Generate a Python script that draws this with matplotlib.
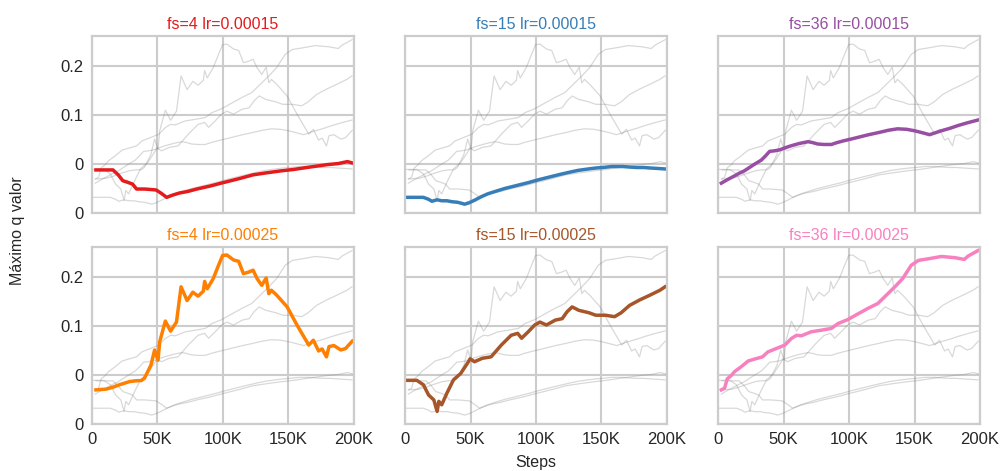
"""Small multiples of the maximum q value per run, one run highlighted per panel."""

import matplotlib
matplotlib.use("Agg")
import matplotlib.pyplot as plt


# steps (in thousands) and maximum q value read for each run
RED_X = [3, 10, 16, 20, 23.5, 27, 31, 34, 40, 45, 49, 53, 57, 62, 67, 73, 80, 90, 100, 112, 123,
         133, 144, 154, 164, 172, 180, 188, 195, 199]
RED_Y = [-0.012, -0.012, -0.012, -0.022, -0.034, -0.037, -0.041, -0.051, -0.051, -0.052, -0.053,
         -0.060, -0.068, -0.063, -0.059, -0.056, -0.051, -0.045, -0.038, -0.030, -0.022, -0.018,
         -0.014, -0.011, -0.007, -0.004, -0.001, 0.001, 0.005, 0.002]

BLUE_X = [0, 7, 14, 18, 20.5, 24.5, 28, 32, 36, 40, 43, 45.5, 49, 53, 58, 63, 70, 76, 85, 94,
          102, 109.5, 117, 125, 132, 140, 146, 151, 158, 166, 171, 176.5, 182, 187, 193, 198.5]
BLUE_Y = [-0.068, -0.068, -0.068, -0.072, -0.076, -0.073, -0.075, -0.075, -0.077, -0.078, -0.080,
          -0.082, -0.079, -0.074, -0.067, -0.061, -0.055, -0.050, -0.044, -0.038, -0.032, -0.027,
          -0.022, -0.017, -0.013, -0.010, -0.008, -0.007, -0.005, -0.005, -0.006, -0.007, -0.007,
          -0.008, -0.009, -0.010]

PURPLE_X = [2.5, 7, 12.7, 16, 20, 24, 28, 33, 36, 39.4, 43, 47, 52, 56, 62, 68.7, 72, 76, 81,
            86.5, 91, 96.7, 103, 109, 115, 122, 130, 137, 144, 150, 156, 161.5, 166, 170.5, 177,
            183, 190, 198.5]
PURPLE_Y = [-0.039, -0.032, -0.024, -0.019, -0.014, -0.007, 0.000, 0.008, 0.016, 0.026, 0.027,
            0.029, 0.034, 0.0375, 0.042, 0.0457, 0.044, 0.041, 0.040, 0.040, 0.044, 0.048, 0.052,
            0.056, 0.060, 0.064, 0.069, 0.072, 0.071, 0.068, 0.064, 0.060, 0.064, 0.068, 0.073,
            0.0785, 0.084, 0.090]

ORANGE_X = [3, 10.7, 16, 21, 28.6, 33, 37.6, 40, 45, 47.8, 50.4, 51.7, 56, 60, 64.5, 68, 72.6,
            77, 81, 85, 86, 88, 92.6, 96, 99.7, 103, 108, 112, 115.6, 119.5, 123, 126, 129.6, 133,
            135, 137, 141, 149, 156.5, 165.5, 169, 173, 175.7, 179, 181, 184.7, 190, 193.6, 198.7]
ORANGE_Y = [-0.0305, -0.029, -0.025, -0.020, -0.0136, -0.012, -0.0115, -0.007, 0.020, 0.051,
            0.030, 0.068, 0.110, 0.0895, 0.108, 0.180, 0.152, 0.169, 0.161, 0.171, 0.191, 0.176,
            0.197, 0.220, 0.244, 0.245, 0.235, 0.232, 0.207, 0.210, 0.214, 0.197, 0.183, 0.198,
            0.166, 0.173, 0.163, 0.139, 0.102, 0.061, 0.071, 0.049, 0.053, 0.037, 0.058, 0.060,
            0.051, 0.054, 0.069]

BROWN_X = [0, 9, 14, 18, 22, 24.5, 25.8, 28, 32, 37, 42.5, 47.7, 49.7, 53, 59, 65.7, 73.5, 81,
           86, 89, 94, 99, 103, 108, 114.7, 120, 123.7, 127.6, 132.7, 140.5, 145.6, 153, 160, 165,
           171.4, 179, 187, 194.6, 198.5]
BROWN_Y = [-0.011, -0.011, -0.020, -0.041, -0.051, -0.0746, -0.054, -0.061, -0.037, -0.010,
           0.003, 0.024, 0.033, 0.027, 0.034, 0.037, 0.061, 0.081, 0.085, 0.075, 0.088, 0.102,
           0.108, 0.102, 0.112, 0.115, 0.129, 0.139, 0.132, 0.127, 0.122, 0.122, 0.119, 0.127,
           0.142, 0.153, 0.163, 0.173, 0.180]

PINK_X = [2.5, 5, 7, 10, 12.7, 17.8, 23, 28, 34, 38, 44.5, 51, 56, 60, 63.6, 71, 79, 86.5, 91.6,
          99, 107, 114.5, 122, 128.5, 135, 141, 147.5, 153, 160, 170.5, 181, 188, 191, 198.5]
PINK_Y = [-0.0305, -0.027, -0.008, -0.0014, 0.007, 0.017, 0.0285, 0.0325, 0.037, 0.047, 0.054,
          0.061, 0.0745, 0.081, 0.080, 0.088, 0.0915, 0.095, 0.105, 0.113, 0.125, 0.136, 0.146,
          0.163, 0.180, 0.197, 0.224, 0.234, 0.237, 0.242, 0.2395, 0.236, 0.243, 0.254]

RUN_NAMES = ["fs=4 lr=0.00015", "fs=15 lr=0.00015", "fs=36 lr=0.00015",
             "fs=4 lr=0.00025", "fs=15 lr=0.00025", "fs=36 lr=0.00025"]
RUN_X = [RED_X, BLUE_X, PURPLE_X, ORANGE_X, BROWN_X, PINK_X]
RUN_Y = [RED_Y, BLUE_Y, PURPLE_Y, ORANGE_Y, BROWN_Y, PINK_Y]
COLORS = ["#e41a1c", "#377eb8", "#984ea3", "#ff7f00", "#a65628", "#f781bf"]

X_TICKS = [0, 50, 100, 150, 200]
X_TICK_LABELS = ["0", "50K", "100K", "150K", "200K"]
Y_TICKS = [-0.1, 0.0, 0.1, 0.2]
Y_TICK_LABELS = ["0", "0", "0.1", "0.2"]

GRID_COLOR = "#cccccc"
FONT_SIZE = 12


def main() -> None:
    plt.rcParams["font.family"] = ["Liberation Sans", "DejaVu Sans"]
    fig, axes = plt.subplots(2, 3, figsize=(10, 4.71), dpi=100, sharex=True, sharey=True)
    fig.subplots_adjust(left=0.092, right=0.98, top=0.924, bottom=0.1, wspace=0.195, hspace=0.19)

    for idx, ax in enumerate(axes.flat):
        for xs, ys in zip(RUN_X, RUN_Y):
            ax.plot(xs, ys, color="grey", linewidth=0.9, alpha=0.3)
        ax.plot(RUN_X[idx], RUN_Y[idx], color=COLORS[idx], linewidth=2.5)
        ax.set_title(RUN_NAMES[idx], color=COLORS[idx], fontsize=FONT_SIZE - 0.5, pad=5)

        ax.set_xlim(0, 200)
        ax.set_ylim(-0.1, 0.262)
        ax.set_xticks(X_TICKS)
        ax.set_xticklabels(X_TICK_LABELS)
        ax.set_yticks(Y_TICKS)
        ax.set_yticklabels(Y_TICK_LABELS)
        ax.tick_params(length=0, labelsize=FONT_SIZE, pad=6, colors="#262626")
        ax.grid(True, color=GRID_COLOR, linewidth=1.5)
        ax.set_axisbelow(True)
        for spine in ax.spines.values():
            spine.set_color(GRID_COLOR)
            spine.set_linewidth(1.6)

    fig.text(0.018, 0.51, "Máximo q valor", rotation=90, ha="center", va="center",
             fontsize=FONT_SIZE - 0.5, color="#262626")
    fig.text(0.536, 0.019, "Steps", ha="center", va="center", fontsize=FONT_SIZE - 0.5,
             color="#262626")

    fig.savefig("out.png", dpi=100)
    plt.close(fig)


if __name__ == "__main__":
    main()
